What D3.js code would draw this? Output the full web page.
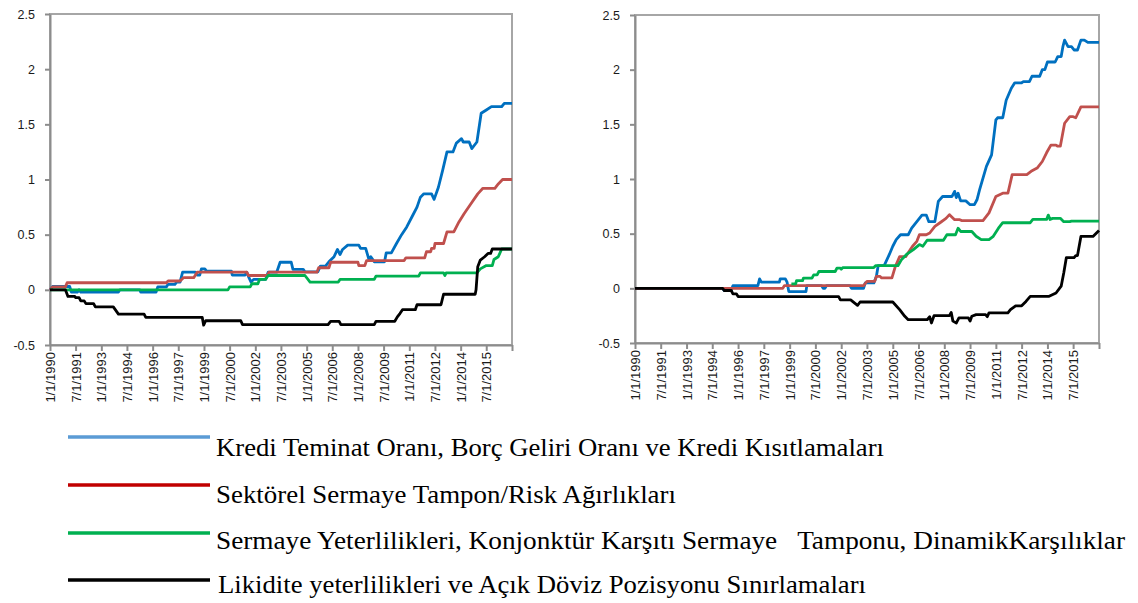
<!DOCTYPE html>
<html>
<head>
<meta charset="utf-8">
<script src="https://cdn.jsdelivr.net/npm/d3@7"></script>
<style>
  body { margin: 0; background: #fff; }
  svg { display: block; }
</style>
</head>
<body>
<div id="chart"></div>
<script>
const width = 1138;
const height = 603;

// x axis labels (Excel category labels, every 18 months)
const xTickLabels = ["1/1/1990", "7/1/1991", "1/1/1993", "7/1/1994", "1/1/1996", "7/1/1997",
  "1/1/1999", "7/1/2000", "1/1/2002", "7/1/2003", "1/1/2005", "7/1/2006", "1/1/2008",
  "7/1/2009", "1/1/2011", "7/1/2012", "1/1/2014", "7/1/2015"];
const xEnd = "1/1/2017";
const yTicks = [-0.5, 0, 0.5, 1, 1.5, 2, 2.5];

const seriesNames = [
  "Kredi Teminat Oranı, Borç Geliri Oranı ve Kredi Kısıtlamaları",
  "Sektörel Sermaye Tampon/Risk Ağırlıkları",
  "Sermaye Yeterlilikleri, Konjonktür Karşıtı Sermaye   Tamponu, DinamikKarşılıklar",
  "Likidite yeterlilikleri ve Açık Döviz Pozisyonu Sınırlamaları"
];
const lineColors = ["#0070C0", "#C0504D", "#00B050", "#000000"];
const legendColors = ["#5B9BD5", "#C00000", "#00B050", "#000000"];

// left panel, [decimal year, value]
const leftBlue = [[1990, 0], [1990.15, 0.03], [1991.15, 0.03], [1991.25, -0.02], [1991.6, -0.02], [1991.7, 0], [1991.8, -0.02],
  [1994.0, -0.02], [1994.08, 0], [1995.25, 0], [1995.3, -0.02], [1996.2, -0.02], [1996.3, 0.027], [1996.8, 0.027],
  [1996.9, 0.05], [1997.3, 0.05], [1997.4, 0.07], [1997.6, 0.07], [1997.75, 0.16], [1998.5, 0.16], [1998.6, 0.134],
  [1998.75, 0.134], [1998.85, 0.19], [1999.05, 0.19], [1999.15, 0.17], [2000.6, 0.17], [2000.65, 0.134], [2001.4, 0.134],
  [2001.5, 0.16], [2001.6, 0.12], [2001.75, 0.07], [2001.9, 0.095], [2002.6, 0.095], [2002.75, 0.16], [2003.25, 0.16],
  [2003.45, 0.25], [2004.1, 0.25], [2004.2, 0.185], [2004.8, 0.185], [2004.9, 0.163], [2005.65, 0.163], [2005.8, 0.215],
  [2006.1, 0.215], [2006.3, 0.254], [2006.6, 0.3], [2006.8, 0.366], [2006.95, 0.32], [2007.1, 0.366], [2007.4, 0.405],
  [2008.05, 0.405], [2008.15, 0.375], [2008.45, 0.375], [2008.65, 0.27], [2008.75, 0.3], [2008.95, 0.254], [2009.55, 0.254],
  [2009.65, 0.335], [2009.95, 0.335], [2010.25, 0.42], [2010.55, 0.5], [2010.85, 0.57], [2011.15, 0.66], [2011.45, 0.75],
  [2011.65, 0.84], [2011.85, 0.87], [2012.3, 0.87], [2012.45, 0.82], [2012.7, 0.93], [2012.95, 1.085], [2013.2, 1.25],
  [2013.55, 1.25], [2013.75, 1.33], [2014.05, 1.37], [2014.15, 1.34], [2014.5, 1.34], [2014.65, 1.28], [2014.95, 1.34],
  [2015.2, 1.6], [2015.5, 1.63], [2015.8, 1.66], [2016.4, 1.66], [2016.55, 1.69], [2017, 1.69]];
const leftRed = [[1990, 0], [1990.15, 0.027], [1990.9, 0.027], [1991.0, 0.064], [1996.8, 0.064], [1996.9, 0.08], [1997.6, 0.08],
  [1997.8, 0.11], [1998.4, 0.11], [1998.6, 0.16], [2001.5, 0.16], [2001.6, 0.13], [2002.7, 0.13], [2002.8, 0.16],
  [2005.6, 0.16], [2005.7, 0.2], [2006.3, 0.2], [2006.4, 0.25], [2008.0, 0.25], [2008.05, 0.22], [2008.4, 0.22],
  [2008.5, 0.265], [2010.7, 0.265], [2010.8, 0.29], [2011.9, 0.29], [2012.0, 0.345], [2012.25, 0.345], [2012.3, 0.375],
  [2012.45, 0.375], [2012.5, 0.42], [2013.0, 0.42], [2013.2, 0.525], [2013.6, 0.525], [2013.9, 0.615], [2014.2, 0.69],
  [2014.6, 0.78], [2015.0, 0.87], [2015.3, 0.92], [2016.0, 0.92], [2016.2, 0.96], [2016.45, 1.0], [2017, 1.0]];
const leftGreen = [[1990, 0], [2000.4, 0], [2000.5, 0.027], [2001.7, 0.027], [2001.8, 0.055], [2002.15, 0.055], [2002.25, 0.095],
  [2002.6, 0.095], [2002.75, 0.13], [2004.9, 0.13], [2005.2, 0.07], [2006.85, 0.07], [2006.95, 0.094], [2008.95, 0.094],
  [2009.05, 0.124], [2011.55, 0.124], [2011.65, 0.154], [2013.0, 0.154], [2013.08, 0.13], [2013.15, 0.154], [2014.95, 0.154],
  [2015.15, 0.19], [2015.5, 0.22], [2015.85, 0.22], [2015.95, 0.275], [2016.2, 0.3], [2016.4, 0.37], [2017, 0.37]];
const leftBlack = [[1990, 0], [1990.9, 0], [1991.05, -0.06], [1991.45, -0.06], [1991.5, -0.07], [1991.7, -0.07], [1991.8, -0.1],
  [1992.0, -0.1], [1992.1, -0.125], [1992.55, -0.125], [1992.65, -0.155], [1993.7, -0.155], [1994.0, -0.22], [1995.5, -0.22],
  [1995.6, -0.25], [1998.9, -0.25], [1998.98, -0.32], [1999.1, -0.28], [2001.15, -0.28], [2001.25, -0.315], [2006.25, -0.315],
  [2006.4, -0.285], [2006.9, -0.285], [2007.0, -0.315], [2008.95, -0.315], [2009.05, -0.285], [2010.15, -0.285],
  [2010.3, -0.245], [2010.45, -0.215], [2010.6, -0.18], [2011.35, -0.18], [2011.45, -0.135], [2012.85, -0.135],
  [2013.0, -0.04], [2014.85, -0.04], [2014.9, 0.0], [2015.0, 0.21], [2015.15, 0.27], [2015.4, 0.3], [2015.6, 0.33],
  [2015.75, 0.33], [2015.85, 0.37], [2017, 0.37]];

// right panel
const rightBlue = [[1990, 0], [1995.1, 0], [1995.2, -0.02], [1995.6, -0.02], [1995.7, 0.025], [1997.15, 0.025], [1997.25, 0.086],
  [1997.35, 0.056], [1998.4, 0.056], [1998.45, 0.086], [1998.75, 0.086], [1998.85, 0.056], [1998.95, -0.03], [1999.95, -0.03],
  [2000.0, 0.025], [2000.85, 0.025], [2000.95, 0], [2001.05, 0], [2001.15, 0.025], [2002.5, 0.025], [2002.6, 0], [2003.3, 0],
  [2003.4, 0.05], [2003.9, 0.05], [2004.05, 0.11], [2004.15, 0.207], [2004.5, 0.207], [2004.8, 0.31], [2005.0, 0.385],
  [2005.2, 0.445], [2005.45, 0.49], [2005.9, 0.49], [2006.1, 0.55], [2006.4, 0.61], [2006.7, 0.67], [2006.95, 0.67],
  [2007.1, 0.61], [2007.45, 0.61], [2007.65, 0.795], [2007.9, 0.84], [2008.45, 0.84], [2008.6, 0.887], [2008.7, 0.83],
  [2008.8, 0.87], [2008.95, 0.8], [2009.25, 0.8], [2009.5, 0.765], [2009.75, 0.765], [2009.9, 0.81], [2010.05, 0.9],
  [2010.45, 1.115], [2010.75, 1.22], [2011.0, 1.54], [2011.1, 1.56], [2011.4, 1.56], [2011.6, 1.72], [2011.9, 1.83],
  [2012.1, 1.88], [2012.5, 1.88], [2012.6, 1.89], [2012.95, 1.89], [2013.1, 1.94], [2013.55, 1.94], [2013.7, 2.0],
  [2013.85, 2.0], [2014.0, 2.07], [2014.45, 2.07], [2014.6, 2.12], [2014.8, 2.12], [2014.9, 2.21], [2015.0, 2.27],
  [2015.2, 2.21], [2015.4, 2.21], [2015.55, 2.18], [2015.75, 2.18], [2015.95, 2.27], [2016.15, 2.27], [2016.35, 2.25],
  [2017, 2.25]];
const rightRed = [[1990, 0], [1998.6, 0], [1998.7, 0.025], [2003.3, 0.025], [2003.5, 0.064], [2003.95, 0.064], [2004.05, 0.11],
  [2004.25, 0.11], [2004.35, 0.095], [2004.95, 0.095], [2005.15, 0.2], [2005.4, 0.29], [2005.75, 0.29], [2006.15, 0.385],
  [2006.4, 0.43], [2006.55, 0.49], [2006.95, 0.49], [2007.15, 0.506], [2007.45, 0.567], [2007.75, 0.6], [2008.1, 0.64],
  [2008.3, 0.674], [2008.6, 0.628], [2008.9, 0.628], [2009.0, 0.62], [2010.25, 0.62], [2010.6, 0.69], [2011.0, 0.84],
  [2011.4, 0.87], [2011.7, 0.87], [2011.95, 1.04], [2012.8, 1.04], [2013.05, 1.07], [2013.4, 1.1], [2013.7, 1.16],
  [2013.95, 1.24], [2014.2, 1.31], [2014.5, 1.31], [2014.6, 1.3], [2014.75, 1.3], [2015.0, 1.51], [2015.3, 1.57],
  [2015.5, 1.57], [2015.65, 1.56], [2015.95, 1.66], [2017, 1.66]];
const rightGreen = [[1999.1, 0.04], [1999.35, 0.04], [1999.4, 0.07], [1999.75, 0.07], [1999.8, 0.093], [2000.3, 0.093],
  [2000.4, 0.123], [2000.6, 0.123], [2000.7, 0.154], [2001.65, 0.154], [2001.75, 0.185], [2001.95, 0.185], [2002.0, 0.175],
  [2002.1, 0.19], [2003.9, 0.19], [2004.0, 0.207], [2005.3, 0.207], [2005.5, 0.26], [2005.8, 0.31], [2006.2, 0.354],
  [2006.55, 0.4], [2006.75, 0.385], [2007.0, 0.44], [2007.95, 0.44], [2008.15, 0.49], [2008.65, 0.49], [2008.8, 0.55],
  [2008.95, 0.52], [2009.6, 0.52], [2009.85, 0.476], [2010.15, 0.445], [2010.6, 0.445], [2010.85, 0.476], [2011.15, 0.55],
  [2011.4, 0.6], [2013.0, 0.6], [2013.15, 0.63], [2013.95, 0.63], [2014.05, 0.67], [2014.15, 0.63], [2014.3, 0.64],
  [2014.75, 0.64], [2014.95, 0.61], [2015.3, 0.61], [2015.4, 0.615], [2017, 0.615]];
const rightBlack = [[1990, 0], [1995.1, 0], [1995.2, -0.02], [1995.6, -0.02], [1995.7, -0.05], [1995.9, -0.05], [1996.0, -0.075],
  [2001.85, -0.075], [2001.95, -0.105], [2002.55, -0.105], [2002.95, -0.155], [2003.1, -0.125], [2005.0, -0.125],
  [2005.4, -0.195], [2005.7, -0.256], [2005.9, -0.287], [2007.0, -0.287], [2007.15, -0.26], [2007.25, -0.317],
  [2007.4, -0.25], [2008.3, -0.25], [2008.4, -0.22], [2008.5, -0.3], [2008.7, -0.317], [2008.85, -0.27], [2009.4, -0.27],
  [2009.5, -0.3], [2009.6, -0.255], [2009.85, -0.24], [2010.4, -0.24], [2010.5, -0.26], [2010.6, -0.225], [2011.7, -0.225],
  [2011.85, -0.195], [2012.15, -0.16], [2012.5, -0.16], [2012.75, -0.12], [2013.0, -0.073], [2014.1, -0.073],
  [2014.5, -0.043], [2014.8, 0.02], [2014.95, 0.14], [2015.1, 0.28], [2015.55, 0.28], [2015.65, 0.3], [2015.75, 0.3],
  [2015.95, 0.475], [2016.65, 0.475], [2017, 0.53]];

const parseDate = d3.timeParse("%m/%d/%Y");

function yearToDate(y) {
  const yr = Math.floor(y);
  const s = new Date(yr, 0, 1), e = new Date(yr + 1, 0, 1);
  return new Date(+s + (y - yr) * (e - s));
}

const svg = d3.select("#chart").append("svg")
    .attr("width", width)
    .attr("height", height)
    .style("font-family", "'DejaVu Sans', Verdana, sans-serif");

function drawPanel(box, series) {
  const x = d3.scaleTime()
      .domain([parseDate(xTickLabels[0]), parseDate(xEnd)])
      .range([box.left, box.right]);
  const y = d3.scaleLinear()
      .domain([yTicks[0], yTicks[yTicks.length - 1]])
      .range([box.bottom, box.top]);

  const g = svg.append("g");

  // plot frame
  g.append("rect")
      .attr("x", box.left).attr("y", box.top)
      .attr("width", box.right - box.left).attr("height", box.bottom - box.top)
      .attr("fill", "none")
      .attr("stroke", "#a6a6a6")
      .attr("stroke-width", 2);

  const tickDates = xTickLabels.map(parseDate).concat([parseDate(xEnd)]);
  const xAxis = g.append("g")
      .attr("transform", `translate(0,${box.bottom})`)
      .call(d3.axisBottom(x).tickValues(tickDates).tickSize(6).tickSizeOuter(0)
        .tickFormat((d, i) => i < xTickLabels.length ? xTickLabels[i] : ""));
  xAxis.selectAll("text")
      .attr("transform", "rotate(-90)")
      .attr("text-anchor", "end")
      .attr("x", -7)
      .attr("y", 0)
      .attr("dy", "0.35em")
      .attr("fill", "#1a1a1a")
      .style("font-size", "13px");

  const yAxis = g.append("g")
      .attr("transform", `translate(${box.left},0)`)
      .call(d3.axisLeft(y).tickValues(yTicks).tickSize(5).tickSizeOuter(0).tickPadding(10)
        .tickFormat(d => String(d)));
  yAxis.selectAll("text")
      .attr("fill", "#1a1a1a")
      .style("font-size", "12.5px");

  g.selectAll(".domain, .tick line")
      .attr("stroke", "#8c8c8c")
      .attr("stroke-width", 2);

  const line = d3.line()
      .x(d => x(yearToDate(d[0])))
      .y(d => y(d[1]));

  g.append("g")
    .selectAll("path")
    .data(series)
    .enter().append("path")
      .attr("d", d => line(d))
      .attr("fill", "none")
      .attr("stroke", (d, i) => lineColors[i])
      .attr("stroke-width", 2.8)
      .attr("stroke-linejoin", "round");
}

drawPanel({ left: 50, right: 512, top: 14, bottom: 345 }, [leftBlue, leftRed, leftGreen, leftBlack]);
drawPanel({ left: 635, right: 1099, top: 15, bottom: 343 }, [rightBlue, rightRed, rightGreen, rightBlack]);

// legend
const legendRows = [437, 485, 533, 580];
const legendBaseline = [19, 18, 16, 13];
const legendStart = [216, 216, 216, 218];
const legendEnd = [884, 676, 1125, 866];

const legend = svg.append("g")
    .selectAll("g")
    .data(seriesNames)
    .enter().append("g")
    .attr("transform", (d, i) => `translate(0,${legendRows[i]})`);

legend.append("line")
    .attr("x1", 68).attr("x2", 210)
    .attr("y1", 0).attr("y2", 0)
    .attr("stroke", (d, i) => legendColors[i])
    .attr("stroke-width", 3.5);

legend.append("text")
    .attr("x", (d, i) => legendStart[i])
    .attr("y", (d, i) => legendBaseline[i])
    .attr("textLength", (d, i) => legendEnd[i] - legendStart[i])
    .attr("lengthAdjust", "spacingAndGlyphs")
    .style("font-family", "'Liberation Serif', 'Times New Roman', serif")
    .style("font-size", "26px")
    .style("white-space", "pre")
    .attr("fill", "#000")
    .text(d => d);
</script>
</body>
</html>
